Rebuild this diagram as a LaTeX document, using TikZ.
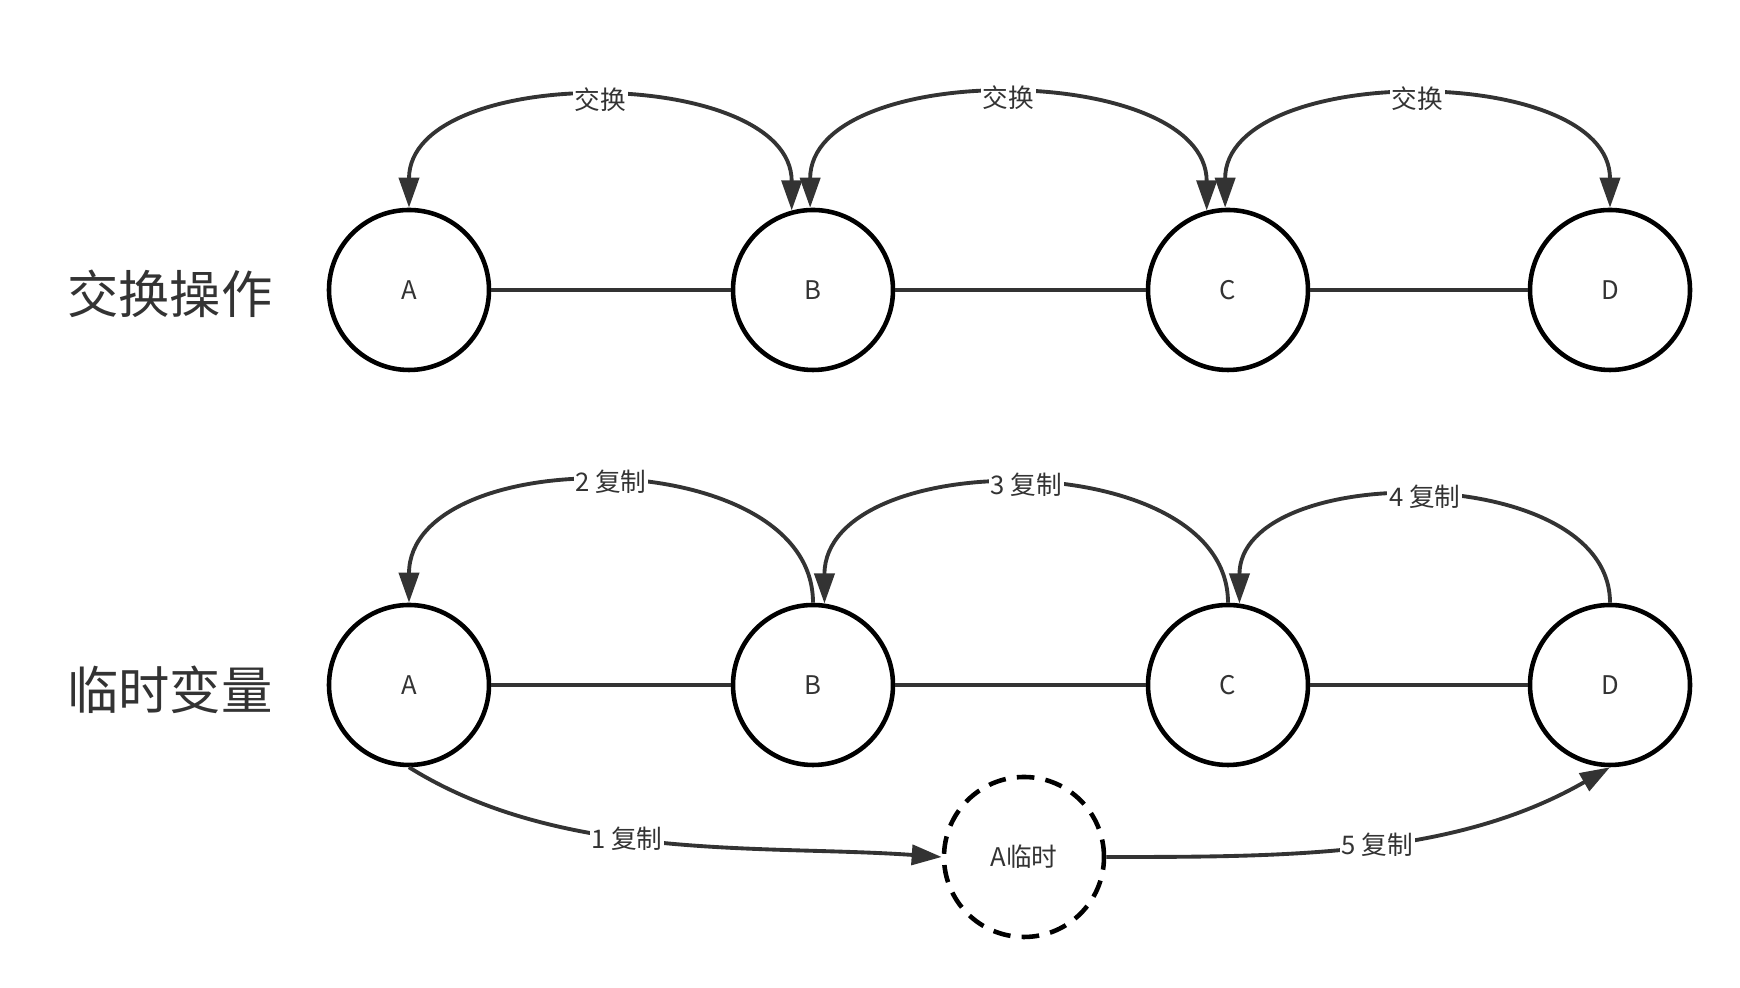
\documentclass[tikz,border=0pt]{standalone}
\usepackage{fontspec}
\setmainfont{Noto Sans CJK SC}
\usepackage{tikz}
\usetikzlibrary{calc, arrows.meta, positioning}
\definecolor{edgegray}{HTML}{333333}

\begin{document}
\begin{tikzpicture}[>={Triangle[length=0.3cm, width=0.2cm]},
    vnode/.style={circle, draw=black, line width=1.3pt, minimum size=1.6cm, inner sep=0pt, font=\fontsize{7.3}{9}\selectfont, text=edgegray},
    tmpnode/.style={vnode, dashed, dash pattern=on 5pt off 3.2pt},
    link/.style={draw=edgegray, line width=1.1pt},
    lbl/.style={fill=white, inner sep=0.5pt, font=\fontsize{7.3}{9}\selectfont, text=edgegray},
    rowtitle/.style={font=\fontsize{14.6}{17}\selectfont, text=edgegray}]
    \useasboundingbox (0,0) rectangle (17.4,9.88);

    % Swap row
    \node[rowtitle] (swaptitle) at (1.70, 6.94) {交换操作};
    \node[vnode] (A1) at (4.09, 6.98) {A};
    \node[vnode] (B1) at (8.13, 6.98) {B};
    \node[vnode] (C1) at (12.28, 6.98) {C};
    \node[vnode] (D1) at (16.10, 6.98) {D};

    \draw[link] (A1) -- (B1);
    \draw[link] (B1) -- (C1);
    \draw[link] (C1) -- (D1);

    \draw[link, <->] (A1.north) to[out=90, in=90, looseness=0.97] node[lbl] {交换} (B1.105);
    \draw[link, <->] (B1.92) to[out=90, in=90, looseness=0.96] node[lbl] {交换} (C1.105);
    \draw[link, <->] (C1.92) to[out=90, in=90, looseness=0.97] node[lbl] {交换} (D1.north);

    % Temp variable row
    \node[rowtitle] (tmptitle) at (1.70, 2.98) {临时变量};
    \node[vnode] (A2) at (4.09, 3.03) {A};
    \node[vnode] (B2) at (8.13, 3.03) {B};
    \node[vnode] (C2) at (12.28, 3.03) {C};
    \node[vnode] (D2) at (16.10, 3.03) {D};
    \node[tmpnode] (T) at (10.24, 1.31) {A临时};

    \draw[link] (A2) -- (B2);
    \draw[link] (B2) -- (C2);
    \draw[link] (C2) -- (D2);

    \draw[link, ->] (A2.south) to[out=-32, in=176, looseness=0.85] node[lbl, pos=0.43] {1 复制} (T.west);
    \draw[link, ->] (B2.north) to[out=90, in=90, looseness=1.02] node[lbl] {2 复制} (A2.north);
    \draw[link, ->] (C2.north) to[out=90, in=90, looseness=1.0] node[lbl] {3 复制} (B2.82);
    \draw[link, ->] (D2.north) to[out=90, in=90, looseness=0.98] node[lbl] {4 复制} (C2.82);
    \draw[link, ->] (T.east) to[out=0, in=-150, looseness=0.9] node[lbl, pos=0.52] {5 复制} (D2.south);
\end{tikzpicture}
\end{document}
